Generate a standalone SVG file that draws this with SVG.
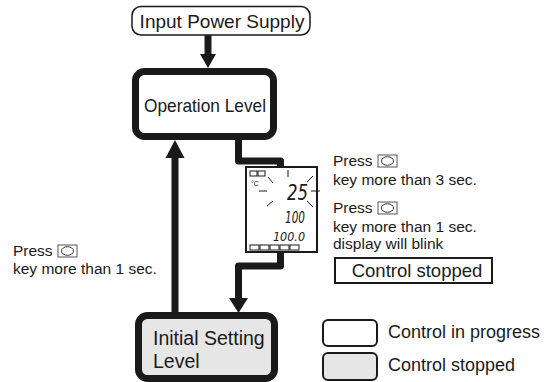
<svg xmlns="http://www.w3.org/2000/svg" width="546" height="382" viewBox="0 0 546 382">
  <style>
    text { font-family: "Liberation Sans", Arial, sans-serif; fill: #1a1a1a; }
    .lvl { fill: #fff; stroke: #1a1a1a; stroke-width: 7; }
    .lvl.stop { fill: #e6e6e6; }
    .thin { fill: #fff; stroke: #1a1a1a; stroke-width: 1.5; }
    .wire { fill: none; stroke: #1a1a1a; stroke-width: 7; stroke-linejoin: round; }
    .head { fill: #1a1a1a; }
    .lbl { font-size: 15.5px; }
    .key rect { fill: #fff; stroke: #555; stroke-width: 1; }
    .key ellipse { fill: none; stroke: #333; stroke-width: 1; }
    .seg { stroke: #1a1a1a; stroke-width: 1; fill: none; }
    .lcd { font-family: "DejaVu Sans", sans-serif; font-style: italic; }
  </style>
  <defs>
    <g id="keyIcon" class="key">
      <rect x="0" y="0" width="19" height="12"/>
      <ellipse cx="9.5" cy="6" rx="6" ry="4.3"/>
    </g>
  </defs>

  <!-- connectors -->
  <g id="connectors">
    <line class="wire" x1="208" y1="35" x2="208" y2="56"/>
    <polygon class="head" points="200,54 216,54 208,68"/>
    <path class="wire" d="M238.5,140 V161 H280.5 V168"/>
    <path class="wire" d="M280.5,252 V266 H238.5 V300"/>
    <polygon class="head" points="229,298 248,298 238.5,313"/>
    <line class="wire" x1="175" y1="312" x2="175" y2="156"/>
    <polygon class="head" points="165.5,158 184.5,158 175,140"/>
  </g>

  <g id="input-power-supply">
    <rect class="thin" x="132" y="6.5" width="178" height="28.5" rx="9"/>
    <text x="222" y="28" font-size="19" text-anchor="middle">Input Power Supply</text>
  </g>

  <g id="operation-level">
    <rect class="lvl" x="135.5" y="71.5" width="138" height="65" rx="9"/>
    <text x="205" y="112" font-size="18.5" text-anchor="middle" textLength="122" lengthAdjust="spacingAndGlyphs">Operation Level</text>
  </g>

  <g id="initial-setting-level">
    <rect class="lvl stop" x="138.5" y="315.5" width="136" height="63" rx="9"/>
    <text x="153" y="345" font-size="19.5">Initial Setting</text>
    <text x="153" y="368" font-size="19.5">Level</text>
  </g>

  <!-- controller front panel -->
  <g id="display">
    <rect x="246" y="167" width="71" height="85" fill="#fff" stroke="#1a1a1a" stroke-width="2"/>
    <rect class="seg" x="250" y="171" width="7" height="5"/>
    <rect class="seg" x="258" y="171" width="7" height="5"/>
    <text x="251" y="186" font-size="7">°C</text>
    <line class="seg" x1="268" y1="177" x2="273" y2="183"/>
    <line class="seg" x1="288" y1="170" x2="288" y2="177"/>
    <line class="seg" x1="259" y1="191" x2="267" y2="191"/>
    <line class="seg" x1="267" y1="206" x2="273" y2="201"/>
    <line class="seg" x1="307" y1="182" x2="313" y2="176"/>
    <line class="seg" x1="311" y1="191" x2="320" y2="191"/>
    <line class="seg" x1="307" y1="201" x2="313" y2="207"/>
    <text class="lcd" x="287" y="200" font-size="22" textLength="21" lengthAdjust="spacingAndGlyphs">25</text>
    <text class="lcd" x="285" y="223" font-size="15" textLength="20" lengthAdjust="spacingAndGlyphs">100</text>
    <text class="lcd" x="273" y="241" font-size="13" textLength="32" lengthAdjust="spacingAndGlyphs">100.0</text>
    <rect class="seg" x="250" y="245" width="9" height="5"/>
    <rect class="seg" x="260" y="245" width="9" height="5"/>
    <rect class="seg" x="270" y="245" width="9" height="5"/>
    <rect class="seg" x="280" y="245" width="9" height="5"/>
    <rect class="seg" x="290" y="245" width="9" height="5"/>
  </g>

  <g id="notes-right">
    <text class="lbl" x="333" y="166">Press</text>
    <use href="#keyIcon" x="378" y="155"/>
    <text class="lbl" x="333" y="185">key more than 3 sec.</text>
    <text class="lbl" x="333" y="213">Press</text>
    <use href="#keyIcon" x="378" y="202"/>
    <text class="lbl" x="333" y="232">key more than 1 sec.</text>
    <text class="lbl" x="333" y="249">display will blink</text>
  </g>

  <g id="control-stopped-tag">
    <rect x="335" y="258" width="157" height="25" fill="#fff" stroke="#1a1a1a" stroke-width="2"/>
    <text x="417" y="277" font-size="18.5" text-anchor="middle">Control stopped</text>
  </g>

  <g id="notes-left">
    <text class="lbl" x="13" y="256">Press</text>
    <use href="#keyIcon" x="58" y="245"/>
    <text class="lbl" x="13" y="274">key more than 1 sec.</text>
  </g>

  <g id="legend">
    <rect x="323" y="320" width="54" height="26" rx="5" fill="#fff" stroke="#1a1a1a" stroke-width="2"/>
    <text x="388" y="338" font-size="18">Control in progress</text>
    <rect x="323" y="353" width="54" height="27" rx="5" fill="#e6e6e6" stroke="#1a1a1a" stroke-width="2"/>
    <text x="388" y="371" font-size="18">Control stopped</text>
  </g>
</svg>
